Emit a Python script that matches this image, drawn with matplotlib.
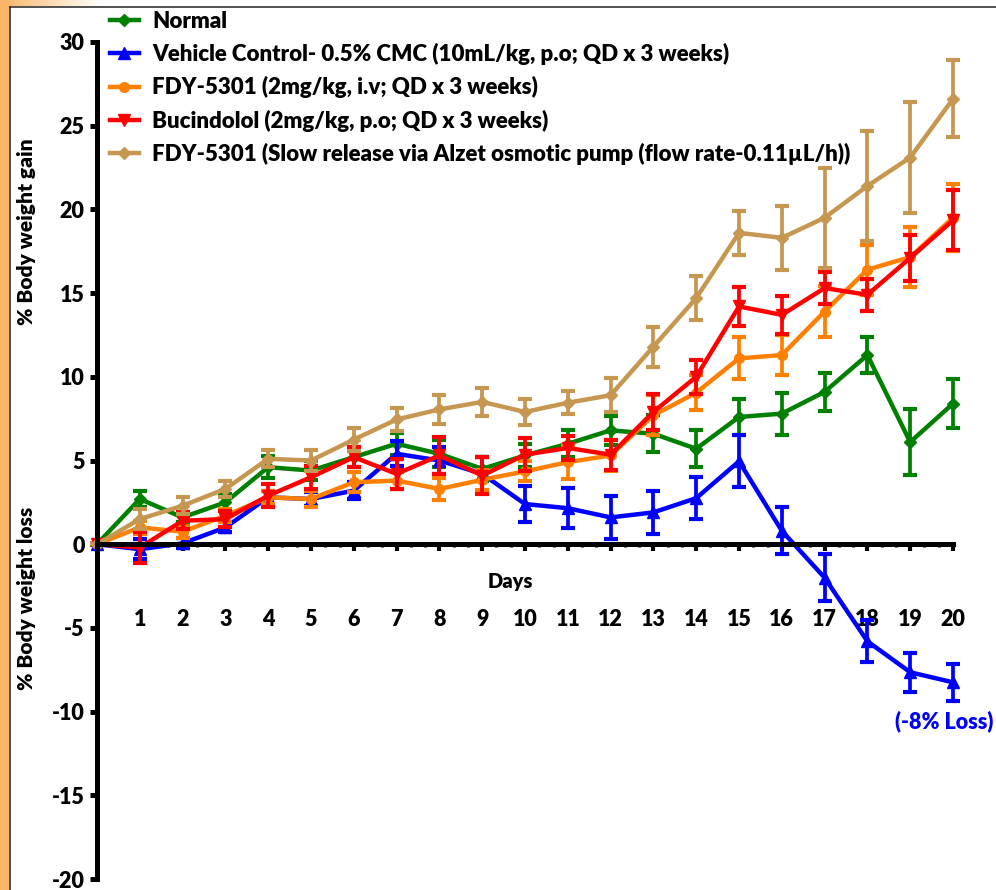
import numpy as np
import matplotlib
matplotlib.use('Agg')
import matplotlib.pyplot as plt
from matplotlib.lines import Line2D
from matplotlib.patches import Rectangle
from matplotlib.ticker import FixedLocator

plt.rcParams['font.family'] = ['Lato', 'DejaVu Sans']
plt.rcParams['font.weight'] = 'heavy'
plt.rcParams['axes.unicode_minus'] = False

days = np.arange(0, 21)

# % body weight change per group (mean and SEM)
normal = [0, 2.7, 1.6, 2.5, 4.6, 4.4, 5.2, 6.0, 5.4, 4.5, 5.3, 6.0, 6.8, 6.6, 5.7, 7.6, 7.8, 9.1, 11.3, 6.1, 8.4]
normal_err = [0, 0.45, 0.3, 0.5, 0.65, 0.55, 0.6, 0.65, 0.8, 0.7, 0.7, 0.8, 0.85, 1.1, 1.1, 1.05, 1.25, 1.15, 1.05, 1.95, 1.45]

vehicle = [0, -0.3, 0.05, 1.0, 2.8, 2.7, 3.2, 5.4, 5.0, 4.2, 2.4, 2.15, 1.6, 1.9, 2.75, 4.95, 0.8, -2.0, -5.8, -7.65, -8.25]
vehicle_err = [0, 0.6, 0.3, 0.3, 0.4, 0.4, 0.5, 0.75, 0.8, 1.0, 1.1, 1.2, 1.3, 1.3, 1.25, 1.55, 1.4, 1.4, 1.25, 1.15, 1.1]

fdy_iv = [0, 1.0, 0.75, 1.7, 2.8, 2.7, 3.7, 3.8, 3.3, 3.85, 4.35, 4.9, 5.3, 7.7, 9.05, 11.1, 11.3, 13.9, 16.4, 17.15, 19.5]
fdy_iv_err = [0, 0.4, 0.35, 0.4, 0.4, 0.5, 0.6, 0.5, 0.65, 0.6, 0.6, 1.0, 0.9, 1.2, 1.05, 1.25, 1.2, 1.55, 1.5, 1.8, 2.0]

bucindolol = [0, -0.2, 1.4, 1.5, 2.9, 4.0, 5.2, 4.2, 5.3, 4.1, 5.35, 5.75, 5.35, 7.9, 10.0, 14.2, 13.7, 15.3, 14.9, 17.1, 19.35]
bucindolol_err = [0, 0.9, 0.5, 0.5, 0.7, 0.7, 0.6, 0.9, 1.1, 1.1, 1.0, 0.7, 0.9, 1.1, 1.0, 1.15, 1.15, 0.95, 0.95, 1.35, 1.8]

fdy_pump = [0, 1.5, 2.3, 3.3, 5.1, 5.0, 6.25, 7.45, 8.05, 8.5, 7.9, 8.45, 8.9, 11.8, 14.7, 18.6, 18.3, 19.5, 21.4, 23.1, 26.6]
fdy_pump_err = [0, 0.6, 0.5, 0.5, 0.5, 0.6, 0.7, 0.7, 0.85, 0.85, 0.8, 0.7, 1.0, 1.2, 1.3, 1.3, 1.9, 3.0, 3.3, 3.3, 2.3]

labels = [
    'Normal',
    'Vehicle Control- 0.5% CMC (10mL/kg, p.o; QD x 3 weeks)',
    'FDY-5301 (2mg/kg, i.v; QD x 3 weeks)',
    'Bucindolol (2mg/kg, p.o; QD x 3 weeks)',
    'FDY-5301 (Slow release via Alzet osmotic pump (flow rate-0.11\u00b5L/h))',
]
colors = ['#008000', '#0000FF', '#FF8000', '#FF0000', '#C59750']
markers = ['D', '^', 'o', 'v', 'D']
msizes = [6, 8, 7, 8, 6]

W, H = 996, 890
fig = plt.figure(figsize=(W / 100, H / 100), dpi=100)

# orange page edge and frame lines
fig.patches.append(Rectangle((0, 0), 8 / W, 1, transform=fig.transFigure,
                             color='#FBB567', zorder=0))
grad = np.ones((1, 100, 3))
t = np.linspace(0, 1, 100)
grad[0, :, 0] = 0.98 + 0.02 * t
grad[0, :, 1] = 0.71 + 0.29 * t
grad[0, :, 2] = 0.40 + 0.60 * t
ax_bg = fig.add_axes([0, 1 - 6 / H, 100 / W, 6 / H])
ax_bg.imshow(grad, aspect='auto')
ax_bg.axis('off')
fig.lines.append(Line2D([9.5 / W, 9.5 / W], [0, 1 - 6.5 / H], transform=fig.transFigure,
                        color='#222222', lw=1.1))
fig.lines.append(Line2D([9.5 / W, 1], [1 - 6.5 / H, 1 - 6.5 / H], transform=fig.transFigure,
                        color='#222222', lw=1.1))

ax = fig.add_axes([97 / W, 11 / H, 856 / W, 837 / H])

series = [(normal, normal_err), (vehicle, vehicle_err), (fdy_iv, fdy_iv_err),
          (bucindolol, bucindolol_err), (fdy_pump, fdy_pump_err)]
for (vals, err), lab, c, m, ms in zip(series, labels, colors, markers, msizes):
    ax.errorbar(days, vals, yerr=err, fmt='none', ecolor=c, elinewidth=2.7,
                capsize=5.3, capthick=3, clip_on=False)
    ax.plot(days, vals, color=c, lw=3.2, marker=m, ms=ms, label=lab, clip_on=False)

ax.set_xlim(0, 20)
ax.set_ylim(-20, 30)

ax.spines['top'].set_visible(False)
ax.spines['right'].set_visible(False)
ax.spines['left'].set_linewidth(3.6)
ax.spines['bottom'].set_linewidth(3.6)
ax.spines['bottom'].set_position(('data', 0))

ax.set_yticks(np.arange(-20, 31, 5))
ax.tick_params(axis='y', direction='out', length=5, width=3.6, pad=4,
               labelsize=15.5)
ax.xaxis.set_major_locator(FixedLocator(range(1, 21)))
ax.xaxis.set_minor_locator(FixedLocator([d + f for d in range(20) for f in (1 / 3, 2 / 3)]))
ax.tick_params(axis='x', which='major', direction='out', length=5, width=3,
               pad=42, labelsize=15.5)
ax.tick_params(axis='x', which='minor', direction='out', length=2.5, width=2.2)

ax.text(9.65, -2.2, 'Days', ha='center', va='center', fontsize=14.5)
ax.text(19.8, -10.6, '(-8% Loss)', ha='center', va='center', fontsize=15.5,
        color='#0000FF', clip_on=False)

fig.text(27 / W, 1 - 232 / H, '% Body weight gain', rotation=90,
         ha='center', va='center', fontsize=15)
fig.text(27 / W, 1 - 598 / H, '% Body weight loss', rotation=90,
         ha='center', va='center', fontsize=15)

ax.legend(loc='upper left', bbox_to_anchor=(110 / W, 1 - 11 / H),
          bbox_transform=fig.transFigure, frameon=False, fontsize=16,
          borderpad=0, borderaxespad=0, handlelength=1.3, handletextpad=0.6,
          labelspacing=0.5)

fig.savefig('out.png', dpi=100)
